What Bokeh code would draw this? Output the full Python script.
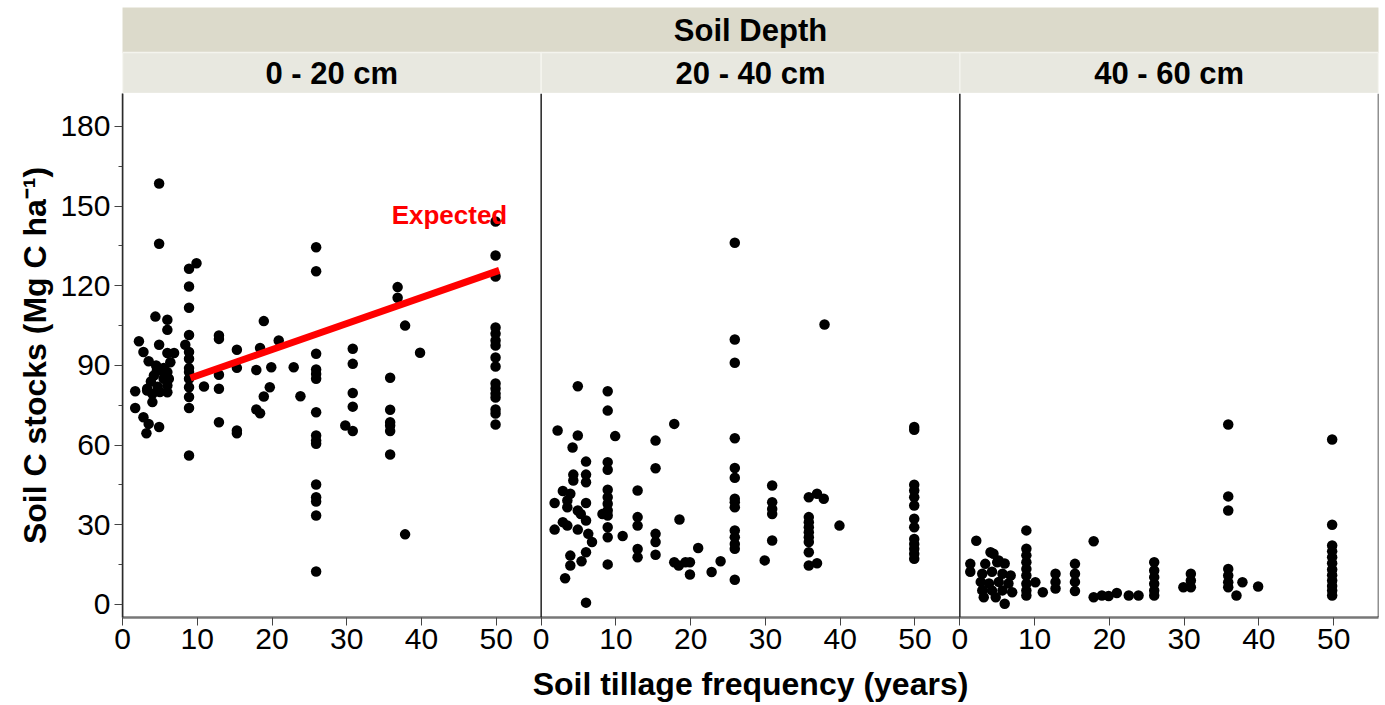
from bokeh.plotting import figure
from bokeh.models import Range1d, FixedTicker, Span
from bokeh.layouts import column
from bokeh.embed import file_html
from bokeh.resources import INLINE
from bokeh.core.properties import value

# ---------------- data ----------------
facet_title = "Soil Depth"
depths = ["0 - 20 cm", "20 - 40 cm", "40 - 60 cm"]
x_ticks = [0, 10, 20, 30, 40, 50]
y_ticks = [0, 30, 60, 90, 120, 150, 180]
y_minor = [15, 45, 75, 105, 135, 165]
x_title = "Soil tillage frequency (years)"
y_title = "Soil C stocks (Mg C ha\u207b\u00b9)"

# 0 - 20 cm
x_0_20 = [1.7, 1.7, 2.2, 2.8, 2.8, 3.2, 3.3, 3.3, 3.5, 3.5, 3.8, 4.0, 4.0, 4.2, 4.4, 4.5, 4.6, 4.7,
          4.9, 4.9, 4.9, 4.9, 5.0, 5.1, 5.5, 5.5, 6.0, 6.0, 6.0, 6.0, 6.0, 6.0, 6.2, 6.4, 6.9,
          8.4, 8.9, 8.9, 8.9, 8.9, 8.9, 8.9, 8.9, 8.9, 8.9, 8.9, 8.9, 8.9, 8.9, 9.9,
          10.9, 12.9, 12.9, 12.9, 12.9, 12.9, 15.3, 15.3, 15.3, 15.3,
          17.9, 17.9, 18.4, 18.4, 18.9, 18.9, 19.7, 19.9, 20.9, 22.9, 23.8,
          25.9, 25.9, 25.9, 25.9, 25.9, 25.9, 25.9, 25.9, 25.9, 25.9, 25.9, 25.9, 25.9, 25.9, 25.9,
          29.8, 30.8, 30.8, 30.8, 30.8, 30.8,
          35.8, 35.8, 35.8, 35.8, 35.8, 35.8, 36.8, 36.8, 37.8, 37.8, 39.8,
          49.9, 49.9, 49.9, 49.9, 49.9, 49.9, 49.9, 49.9, 49.9, 49.9, 49.9, 49.9, 49.9, 49.9, 49.9, 49.9]
y_0_20 = [80.3, 74.0, 99.1, 95.1, 70.5, 64.5, 81.2, 80.6, 91.6, 68.0, 84.0, 79.3, 76.2, 86.2, 108.4, 90.0, 88.1, 82.0,
          158.5, 135.8, 97.8, 66.8, 80.0, 88.1, 89.0, 85.0, 107.2, 103.4, 94.7, 87.5, 82.5, 79.9, 85.0, 91.2, 94.7,
          97.8, 126.4, 119.7, 111.7, 101.5, 95.1, 92.5, 89.0, 87.5, 85.0, 81.8, 78.1, 74.0, 56.1, 128.5,
          82.1, 101.3, 100.0, 86.5, 81.2, 68.6, 95.9, 89.1, 65.5, 64.5,
          88.3, 73.4, 96.6, 72.0, 106.7, 78.3, 81.8, 89.3, 99.4, 89.3, 78.4,
          134.5, 125.5, 94.4, 88.5, 86.8, 85.0, 72.4, 63.6, 61.7, 60.5, 45.2, 40.4, 38.8, 33.5, 12.4,
          67.4, 96.3, 90.6, 79.6, 74.5, 65.3,
          85.4, 73.3, 68.6, 67.4, 65.3, 56.5, 119.5, 115.5, 105.0, 26.4, 94.8,
          144.2, 131.4, 123.5, 104.3, 102.0, 99.4, 97.5, 93.0, 89.6, 83.2, 81.3, 79.4, 77.9, 73.4, 71.9, 67.8]

# 20 - 40 cm
x_20_40 = [1.8, 1.8, 2.2, 2.9, 2.9, 3.2, 3.5, 3.5, 3.5, 3.9, 3.9, 3.9, 4.2, 4.3, 4.3,
           4.9, 4.9, 4.9, 4.9, 5.3, 5.4, 6.0, 6.0, 6.0, 6.0, 6.0, 6.0, 6.0, 6.3, 6.8, 8.2,
           8.9, 8.9, 8.9, 8.9, 8.9, 8.9, 8.9, 8.9, 8.9, 8.9, 8.9, 8.9, 9.9, 10.9,
           12.9, 12.9, 12.9, 12.9, 12.9, 15.3, 15.3, 15.3, 15.3, 15.3,
           17.8, 17.8, 18.4, 18.5, 19.3, 19.9, 19.9, 21.0, 22.8, 24.0,
           25.9, 25.9, 25.9, 25.9, 25.9, 25.9, 25.9, 25.9, 25.9, 25.9, 25.9, 25.9, 25.9, 25.9,
           29.9, 30.9, 30.9, 30.9, 30.9, 30.9,
           35.8, 35.8, 35.8, 35.8, 35.8, 35.8, 35.8, 35.8, 35.8, 36.9, 36.9, 37.8, 37.9, 39.9,
           49.9, 49.9, 49.9, 49.9, 49.9, 49.9, 49.9, 49.9, 49.9, 49.9, 49.9, 49.9, 49.9]
y_20_40 = [38.2, 28.2, 65.5, 42.7, 31.0, 9.9, 39.2, 36.6, 29.7, 41.7, 18.4, 14.7, 59.1, 48.9, 46.7,
           82.2, 63.6, 35.4, 28.2, 34.1, 16.3, 53.8, 48.9, 46.0, 38.2, 31.6, 19.7, 0.7, 26.6, 23.5, 34.1,
           80.3, 73.0, 53.6, 50.7, 43.2, 40.4, 37.9, 35.4, 33.5, 29.1, 25.3, 15.1, 63.4, 25.8,
           42.9, 32.9, 29.7, 20.9, 17.8, 61.7, 51.3, 26.6, 23.5, 18.7,
           68.0, 15.9, 14.7, 32.0, 15.9, 15.9, 11.3, 21.3, 12.2, 16.3,
           136.2, 99.8, 91.0, 62.6, 51.4, 47.7, 39.8, 38.5, 36.6, 27.9, 25.3, 22.8, 21.0, 9.3,
           16.6, 44.8, 38.5, 36.0, 34.1, 24.1,
           40.4, 32.9, 31.0, 29.1, 27.2, 25.3, 23.5, 19.7, 14.7, 41.7, 15.5, 39.8, 105.4, 29.7,
           66.8, 65.8, 45.1, 42.9, 40.4, 37.3, 32.3, 29.1, 24.7, 22.8, 21.0, 19.1, 17.2]

# 40 - 60 cm
x_40_60 = [1.4, 1.4, 2.2, 2.8, 3.0, 3.0, 3.2, 3.4, 3.9, 4.1, 4.3, 4.3, 4.5, 4.8, 5.0, 5.2, 5.2,
           5.7, 5.7, 6.0, 6.0, 6.5, 6.8, 7.0,
           8.9, 8.9, 8.9, 8.9, 8.9, 8.9, 8.9, 8.9, 8.9, 10.1, 11.1, 12.8, 12.8, 12.8,
           15.4, 15.4, 15.4, 15.4, 17.9, 17.9, 19.0, 19.9, 21.0, 22.6, 23.9,
           26.0, 26.0, 26.0, 26.0, 26.0, 26.0, 29.9, 30.9, 30.9, 30.9,
           35.9, 35.9, 35.9, 35.9, 35.9, 35.9, 35.9, 37.0, 37.8, 39.9,
           49.8, 49.8, 49.8, 49.8, 49.8, 49.8, 49.8, 49.8, 49.8, 49.8, 49.8, 49.8]
y_40_60 = [15.3, 12.3, 24.0, 8.5, 11.6, 5.3, 2.7, 15.3, 7.9, 19.7, 12.3, 5.3, 19.1, 2.7, 15.9, 8.5, 16.6,
           11.6, 5.3, 15.4, 0.3, 7.9, 10.9, 4.6,
           27.9, 21.0, 18.5, 15.9, 13.4, 10.9, 7.8, 5.3, 3.4, 8.4, 4.6, 11.6, 8.5, 6.0,
           15.3, 11.6, 8.5, 5.1, 23.8, 2.7, 3.4, 3.2, 4.3, 3.4, 3.4,
           15.9, 12.8, 10.3, 7.8, 5.3, 3.4, 6.5, 11.6, 9.0, 6.5,
           67.8, 40.7, 35.4, 13.4, 10.9, 8.4, 6.5, 3.4, 8.4, 6.8,
           62.1, 30.0, 22.2, 20.0, 17.8, 15.5, 13.2, 11.0, 9.0, 7.0, 5.3, 3.4]

# expected trend line in the 0 - 20 cm panel
expected_x = [9.1, 50.4]
expected_y = [85.3, 125.8]
expected_label = "Expected"
expected_label_x = 36.0
expected_label_y = 146.5

panel_x = [x_0_20, x_20_40, x_40_60]
panel_y = [y_0_20, y_20_40, y_40_60]

# ---------------- layout / style ----------------
FONT = "Liberation Sans"
SPAN = 56.0           # x extent of each panel (data units)
NP = len(depths)
FRAME_W = 1256
LEFT = 122
RIGHT = 7

# strip header figure
s = figure(frame_width=FRAME_W, frame_height=86, min_border_left=LEFT, min_border_right=RIGHT,
           min_border_top=7, min_border_bottom=0, x_range=Range1d(0, SPAN * NP), y_range=Range1d(0, 86),
           x_axis_location=None, y_axis_location=None, output_backend="svg", toolbar_location=None,
           outline_line_color=None, border_fill_color="white", background_fill_color="white")
s.grid.visible = False
s.quad(left=0, right=SPAN * NP, bottom=41, top=86, fill_color="#dcdacb", line_color="#e6e4d8", line_width=1)
s.quad(left=[k * SPAN for k in range(NP)], right=[(k + 1) * SPAN for k in range(NP)], bottom=0, top=41,
       fill_color="#e8e8e0", line_color="#f4f4ee", line_width=1.5)
s.text(x=[SPAN * NP / 2], y=[63.5], text=[facet_title], text_align="center", text_baseline="middle",
       text_font=value(FONT), text_font_style="bold", text_font_size="31px", text_color="black")
s.text(x=[(k + 0.5) * SPAN for k in range(NP)], y=[20.5] * NP, text=depths, text_align="center",
       text_baseline="middle", text_font=value(FONT), text_font_style="bold", text_font_size="31px",
       text_color="black")

# main panels figure
p = figure(frame_width=FRAME_W, frame_height=524, min_border_left=LEFT, min_border_right=RIGHT,
           min_border_top=0, min_border_bottom=88, x_range=Range1d(0, SPAN * NP), y_range=Range1d(-4.9, 192.4),
           output_backend="svg", toolbar_location=None, outline_line_color=None,
           border_fill_color="white", background_fill_color="white")
p.grid.visible = False
for k in range(NP):
    p.extra_x_ranges["d%d" % k] = Range1d(-k * SPAN, (NP - k) * SPAN)

for k in range(NP):
    p.scatter(x=panel_x[k], y=panel_y[k], x_range_name="d%d" % k, size=10.5,
              fill_color="black", line_color=None)

p.line(x=expected_x, y=expected_y, x_range_name="d0", line_color="#ff0000", line_width=7, line_cap="butt")
p.text(x=[expected_label_x], y=[expected_label_y], text=[expected_label], x_range_name="d0",
       text_color="#ff0000", text_font=value(FONT), text_font_style="bold", text_font_size="26px",
       text_align="left", text_baseline="alphabetic")

for k in range(NP + 1):
    p.add_layout(Span(location=k * SPAN, dimension="height", line_color="#222222", line_width=1.5))

xt = [k * SPAN + t for k in range(NP) for t in x_ticks]
p.xaxis.ticker = FixedTicker(ticks=xt, minor_ticks=[])
p.xaxis.major_label_overrides = {k * SPAN + t: str(t) for k in range(NP) for t in x_ticks}
p.yaxis.ticker = FixedTicker(ticks=y_ticks, minor_ticks=y_minor)

for ax in (p.xaxis[0], p.yaxis[0]):
    ax.major_label_text_font = FONT
    ax.major_label_text_font_size = "30px"
    ax.major_label_text_color = "black"
    ax.axis_label_text_font = FONT
    ax.axis_label_text_font_style = "bold"
    ax.axis_label_text_font_size = "32px"
    ax.axis_label_text_color = "black"
    ax.major_tick_in = 0
    ax.major_tick_out = 8
    ax.minor_tick_in = 0
    ax.minor_tick_out = 4
    ax.major_tick_line_color = "#444444"
    ax.minor_tick_line_color = "#444444"

p.xaxis.axis_label = x_title
p.yaxis.axis_label = y_title
p.xaxis.axis_line_color = "#777777"
p.xaxis.axis_line_width = 2.5
p.yaxis.axis_line_color = "#333333"
p.yaxis.axis_line_width = 1.5
p.xaxis.major_label_standoff = 3
p.xaxis.major_label_text_line_height = 1.0
p.xaxis.axis_label_text_line_height = 1.0
p.xaxis.axis_label_standoff = 14
p.yaxis.major_label_standoff = 4
p.yaxis.axis_label_standoff = 4

layout = column(s, p, spacing=0)
open("out.html", "w").write(file_html(layout, INLINE))
